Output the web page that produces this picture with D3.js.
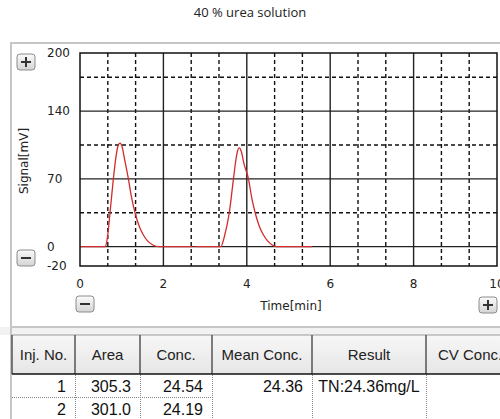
<!DOCTYPE html>
<html>
<head>
<meta charset="utf-8">
<script src="https://cdn.jsdelivr.net/npm/d3@7"></script>
<style>
  html, body { margin: 0; padding: 0; background: #fff; }
  svg { display: block; }
</style>
</head>
<body>
<div id="chart"></div>
<script>
// chart data
var title = "40 % urea solution";
var xTicks = [0, 2, 4, 6, 8, 10];
var xGridDashed = [0.667, 1.333, 2.667, 3.333, 4.667, 5.333, 6.667, 7.333, 8.667, 9.333];
var yTicks = [-20, 0, 70, 140, 200];
var yGridSolid = [0, 70, 140];
var yGridDashed = [35, 105, 175];

// injection 1
var time1 = [0, 0.6, 0.66, 0.72, 0.8, 0.86, 0.91, 0.96, 1.01, 1.07, 1.16, 1.24, 1.32, 1.42, 1.52, 1.62, 1.74, 1.88, 2.7];
var signal1 = [0, 0, 10, 35, 70, 92, 104, 107, 103, 90, 70, 50, 35, 21, 12, 6, 2, 0, 0];
// injection 2
var time2 = [2.75, 3.38, 3.46, 3.58, 3.68, 3.74, 3.78, 3.82, 3.87, 3.93, 4.04, 4.12, 4.2, 4.3, 4.4, 4.5, 4.6, 4.7, 5.56];
var signal2 = [0, 0, 10, 35, 70, 90, 99, 102, 98, 86, 70, 50, 35, 21, 12, 6, 2, 0, 0];

// result table
var headers = ["Inj. No.", "Area", "Conc.", "Mean Conc.", "Result", "CV Conc."];
var injNo = ["1", "2"];
var area = ["305.3", "301.0"];
var conc = ["24.54", "24.19"];
var meanConc = ["24.36", ""];
var result = ["TN:24.36mg/L", ""];
var cvConc = ["1.00", ""];

var W = 500, H = 419;
var svg = d3.select("#chart").append("svg").attr("width", W).attr("height", H);

var defs = svg.append("defs");
var grad = defs.append("linearGradient").attr("id", "btn").attr("x1", 0).attr("y1", 0).attr("x2", 0).attr("y2", 1);
grad.append("stop").attr("offset", "0%").attr("stop-color", "#fbfbfb");
grad.append("stop").attr("offset", "100%").attr("stop-color", "#d4d4d4");
var hgrad = defs.append("linearGradient").attr("id", "hdr").attr("x1", 0).attr("y1", 0).attr("x2", 0).attr("y2", 1);
hgrad.append("stop").attr("offset", "0%").attr("stop-color", "#f7f7f7");
hgrad.append("stop").attr("offset", "100%").attr("stop-color", "#e6e6e6");

// title
svg.append("text")
  .attr("x", 250).attr("y", 17)
  .attr("text-anchor", "middle")
  .style("font-family", "'Open Sans', sans-serif")
  .style("font-size", "13px")
  .attr("fill", "#222")
  .text(title);

// window panel
svg.append("rect").attr("x", 0).attr("y", 327).attr("width", W).attr("height", 8).attr("fill", "#f2f2f2");
svg.append("rect")
  .attr("x", 11).attr("y", 43).attr("width", 520).attr("height", 284)
  .attr("fill", "#fff").attr("stroke", "#c6c6c6").attr("stroke-width", 2);
svg.append("line").attr("x1", 11).attr("x2", 11).attr("y1", 43).attr("y2", H)
  .attr("stroke", "#c6c6c6").attr("stroke-width", 2);

// scales
var x = d3.scaleLinear().domain([0, 10]).range([80, 497]);
var y = d3.scaleLinear().domain([-20, 200]).range([266, 53]);

var plot = svg.append("g");

// dashed grid
plot.selectAll(".vd").data(xGridDashed).enter().append("line")
  .attr("x1", function (d) { return x(d); }).attr("x2", function (d) { return x(d); })
  .attr("y1", y(200)).attr("y2", y(-20))
  .attr("stroke", "#111").attr("stroke-width", 1.4).attr("stroke-dasharray", "4,3");
plot.selectAll(".hd").data(yGridDashed).enter().append("line")
  .attr("x1", x(0)).attr("x2", x(10))
  .attr("y1", function (d) { return y(d); }).attr("y2", function (d) { return y(d); })
  .attr("stroke", "#111").attr("stroke-width", 1.4).attr("stroke-dasharray", "4,3");

// solid grid
plot.selectAll(".vs").data(xTicks.slice(1, -1)).enter().append("line")
  .attr("x1", function (d) { return x(d); }).attr("x2", function (d) { return x(d); })
  .attr("y1", y(200)).attr("y2", y(-20))
  .attr("stroke", "#222").attr("stroke-width", 1.4);
plot.selectAll(".hs").data(yGridSolid).enter().append("line")
  .attr("x1", x(0)).attr("x2", x(10))
  .attr("y1", function (d) { return y(d); }).attr("y2", function (d) { return y(d); })
  .attr("stroke", "#222").attr("stroke-width", 1.4);

// traces
var line = d3.line()
  .x(function (d) { return x(d[0]); })
  .y(function (d) { return y(d[1]); })
  .curve(d3.curveMonotoneX);
[[time1, signal1], [time2, signal2]].forEach(function (s) {
  plot.append("path")
    .datum(d3.zip(s[0], s[1]))
    .attr("d", line)
    .attr("fill", "none")
    .attr("stroke", "#d42a2a")
    .attr("stroke-width", 1.3);
});

// frame
plot.append("rect")
  .attr("x", x(0)).attr("y", y(200))
  .attr("width", x(10) - x(0)).attr("height", y(-20) - y(200))
  .attr("fill", "none").attr("stroke", "#111").attr("stroke-width", 1.5);

// axis labels
var axisFont = "'DejaVu Sans', sans-serif";
svg.selectAll(".ylab").data(yTicks).enter().append("text")
  .attr("x", 47).attr("y", function (d) { return y(d); })
  .attr("dy", "0.35em")
  .style("font-family", axisFont).style("font-size", "12px")
  .attr("fill", "#222")
  .text(function (d) { return d; });
svg.selectAll(".xlab").data(xTicks).enter().append("text")
  .attr("x", function (d) { return x(d); }).attr("y", 284)
  .attr("dy", "0.35em").attr("text-anchor", "middle")
  .style("font-family", axisFont).style("font-size", "12px")
  .attr("fill", "#222")
  .text(function (d) { return d; });
svg.append("text")
  .attr("x", 291).attr("y", 306).attr("dy", "0.35em").attr("text-anchor", "middle")
  .style("font-family", axisFont).style("font-size", "12px").attr("fill", "#222")
  .text("Time[min]");
svg.append("text")
  .attr("transform", "translate(24,161) rotate(-90)")
  .attr("dy", "0.35em").attr("text-anchor", "middle")
  .style("font-family", axisFont).style("font-size", "12px").attr("fill", "#222")
  .text("Signal[mV]");

// zoom buttons
function button(cx, cy, plus) {
  var g = svg.append("g").attr("transform", "translate(" + cx + "," + cy + ")");
  g.append("rect").attr("x", -9).attr("y", -8).attr("width", 18).attr("height", 16).attr("rx", 3)
    .attr("fill", "url(#btn)").attr("stroke", "#8c8c8c").attr("stroke-width", 1);
  g.append("line").attr("x1", -5).attr("x2", 5).attr("y1", 0).attr("y2", 0)
    .attr("stroke", "#333").attr("stroke-width", 2);
  if (plus) {
    g.append("line").attr("x1", 0).attr("x2", 0).attr("y1", -5).attr("y2", 5)
      .attr("stroke", "#333").attr("stroke-width", 2);
  }
}
button(26, 62, true);
button(26, 258, false);
button(85, 304, false);
button(488, 305, true);

// table
var colX = [12, 75, 140, 212, 312, 426, 540];
var headTop = 335, headBot = 374, rowH = 23;
var tbl = svg.append("g");
tbl.append("rect").attr("x", colX[0]).attr("y", headTop).attr("width", W - colX[0]).attr("height", headBot - headTop)
  .attr("fill", "url(#hdr)");
tbl.append("rect").attr("x", colX[0]).attr("y", headBot).attr("width", W - colX[0]).attr("height", H - headBot)
  .attr("fill", "#fff");
tbl.append("line").attr("x1", colX[0]).attr("x2", W).attr("y1", headTop).attr("y2", headTop)
  .attr("stroke", "#9a9a9a").attr("stroke-width", 1);
tbl.selectAll(".hsep").data(colX.slice(0, 6)).enter().append("line")
  .attr("x1", function (d) { return d; }).attr("x2", function (d) { return d; })
  .attr("y1", headTop).attr("y2", headBot)
  .attr("stroke", "#555").attr("stroke-width", 1.5);
tbl.append("line").attr("x1", colX[0]).attr("x2", W).attr("y1", headBot).attr("y2", headBot)
  .attr("stroke", "#111").attr("stroke-width", 1.5);

tbl.selectAll(".htxt").data(headers).enter().append("text")
  .attr("y", (headTop + headBot) / 2).attr("dy", "0.35em")
  .attr("text-anchor", function (d, i) { return i === 5 ? "start" : "middle"; })
  .attr("x", function (d, i) { return i === 5 ? colX[5] + 12 : (colX[i] + colX[i + 1]) / 2; })
  .style("font-family", "'Liberation Sans', Arial, sans-serif").style("font-size", "15px")
  .attr("fill", "#222")
  .text(function (d) { return d; });

// dotted cell borders
tbl.selectAll(".dsep").data(colX.slice(1, 6)).enter().append("line")
  .attr("x1", function (d) { return d + 0.5; }).attr("x2", function (d) { return d + 0.5; })
  .attr("y1", headBot + 1).attr("y2", H)
  .attr("stroke", "#888").attr("stroke-width", 1).attr("stroke-dasharray", "1,1");
tbl.append("line").attr("x1", colX[0]).attr("x2", colX[3]).attr("y1", headBot + rowH + 0.5).attr("y2", headBot + rowH + 0.5)
  .attr("stroke", "#888").attr("stroke-width", 1).attr("stroke-dasharray", "1,1");

var cols = [injNo, area, conc, meanConc, result, cvConc];
var cellFont = "'Liberation Sans Narrow', 'Arial Narrow', sans-serif";
cols.forEach(function (col, c) {
  col.forEach(function (v, r) {
    if (!v) return;
    var center = c === 4;
    tbl.append("text")
      .attr("x", center ? (colX[c] + colX[c + 1]) / 2 : colX[c + 1] - 9)
      .attr("y", headBot + rowH * r + rowH / 2 + 1).attr("dy", "0.35em")
      .attr("text-anchor", center ? "middle" : "end")
      .style("font-family", cellFont).style("font-size", "16px")
      .attr("fill", "#111")
      .text(v);
  });
});
</script>
</body>
</html>
